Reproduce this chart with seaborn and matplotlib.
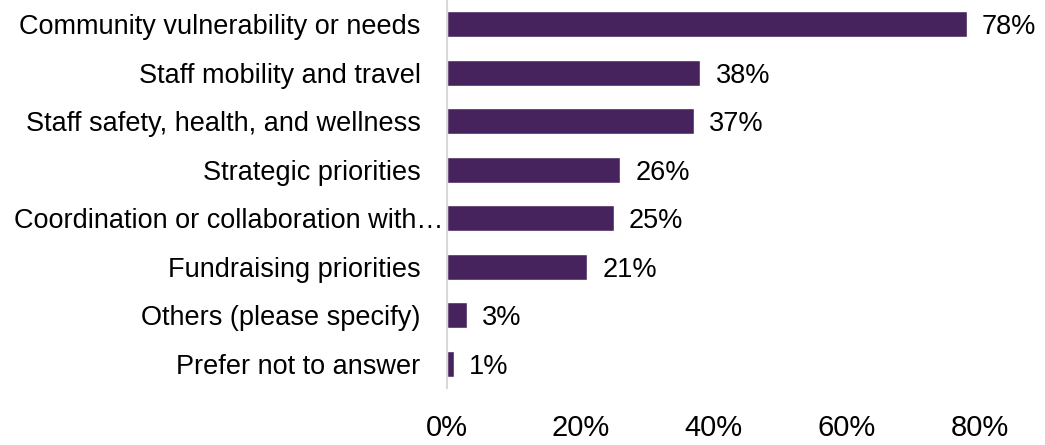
import matplotlib
matplotlib.use("Agg")
import matplotlib.pyplot as plt
import seaborn as sns
import pandas as pd

categories = [
    "Community vulnerability or needs",
    "Staff mobility and travel",
    "Staff safety, health, and wellness",
    "Strategic priorities",
    "Coordination or collaboration with…",
    "Fundraising priorities",
    "Others (please specify)",
    "Prefer not to answer",
]
values = [78, 38, 37, 26, 25, 21, 3, 1]
xticks = [0, 20, 40, 60, 80]
xtick_labels = ["0%", "20%", "40%", "60%", "80%"]

sns.set_theme(style="white")
plt.rcParams["font.family"] = ["Liberation Sans", "DejaVu Sans"]

df = pd.DataFrame({"category": categories, "value": values})

fig = plt.figure(figsize=(10.45, 4.45), dpi=100)
ax = fig.add_axes([0.4278, 0.128, 0.51, 0.872])

sns.barplot(data=df, x="value", y="category", orient="h", color="#47235E",
            saturation=1, width=0.53, ax=ax)

ax.set_xlim(0, 80)
ax.set_ylim(7.5, -0.5)
ax.set_xticks(xticks)
ax.set_xticklabels(xtick_labels, fontsize=21, color="black")
ax.tick_params(axis="x", length=0, pad=19)
ax.tick_params(axis="y", length=0, pad=19, labelsize=19.5, labelcolor="black")
ax.set_xlabel("")
ax.set_ylabel("")

# The truncated label sits closer to the axis in the reference
long_idx = 4
ylabels = [c if i != long_idx else "" for i, c in enumerate(categories)]
ax.set_yticks(range(len(categories)))
ax.set_yticklabels(ylabels)
ax.annotate(categories[long_idx], xy=(0, long_idx), xytext=(-3, 0),
            textcoords="offset points", ha="right", va="center_baseline",
            fontsize=19.5, color="black", annotation_clip=False)

for s in ["top", "right", "bottom"]:
    ax.spines[s].set_visible(False)
ax.spines["left"].set_color("#d9d9d9")
ax.spines["left"].set_linewidth(1.5)

for i, v in enumerate(values):
    ax.annotate(f"{v}%", xy=(v, i), xytext=(11, 0), textcoords="offset points",
                va="center_baseline", ha="left", fontsize=19.5, color="black",
                clip_on=False)

fig.savefig("out.png", dpi=100)
